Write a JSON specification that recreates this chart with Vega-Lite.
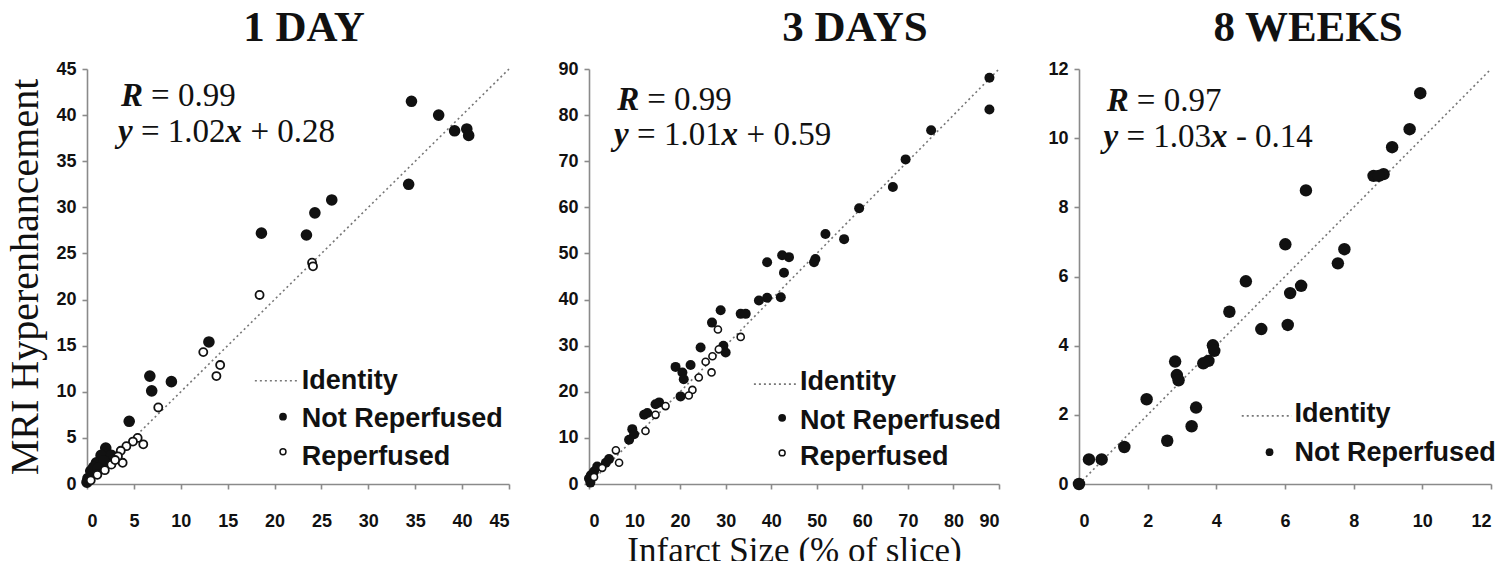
{
  "$schema": "https://vega.github.io/schema/vega-lite/v6.json",
  "background": "white",
  "padding": {"left": 5, "top": 7, "right": 0, "bottom": 0},
  "bounds": "flush",
  "spacing": 80,
  "datasets": {
    "day1": [
      {"x": 34.6, "y": 41.5, "group": "Not Reperfused"},
      {"x": 37.5, "y": 40.0, "group": "Not Reperfused"},
      {"x": 39.2, "y": 38.3, "group": "Not Reperfused"},
      {"x": 40.5, "y": 38.5, "group": "Not Reperfused"},
      {"x": 40.7, "y": 37.8, "group": "Not Reperfused"},
      {"x": 34.3, "y": 32.5, "group": "Not Reperfused"},
      {"x": 26.1, "y": 30.8, "group": "Not Reperfused"},
      {"x": 24.3, "y": 29.4, "group": "Not Reperfused"},
      {"x": 23.4, "y": 27.0, "group": "Not Reperfused"},
      {"x": 18.6, "y": 27.2, "group": "Not Reperfused"},
      {"x": 13.0, "y": 15.4, "group": "Not Reperfused"},
      {"x": 6.7, "y": 11.7, "group": "Not Reperfused"},
      {"x": 6.9, "y": 10.1, "group": "Not Reperfused"},
      {"x": 9.0, "y": 11.1, "group": "Not Reperfused"},
      {"x": 4.5, "y": 6.8, "group": "Not Reperfused"},
      {"x": 2.0, "y": 3.9, "group": "Not Reperfused"},
      {"x": 1.5, "y": 3.1, "group": "Not Reperfused"},
      {"x": 1.0, "y": 2.3, "group": "Not Reperfused"},
      {"x": 0.4, "y": 1.4, "group": "Not Reperfused"},
      {"x": 0.1, "y": 0.6, "group": "Not Reperfused"},
      {"x": 0.0, "y": 0.2, "group": "Not Reperfused"},
      {"x": 2.6, "y": 3.1, "group": "Not Reperfused"},
      {"x": 1.8, "y": 2.5, "group": "Not Reperfused"},
      {"x": 0.7, "y": 1.8, "group": "Not Reperfused"},
      {"x": 1.2, "y": 1.7, "group": "Not Reperfused"},
      {"x": 24.0, "y": 24.0, "group": "Reperfused"},
      {"x": 24.1, "y": 23.6, "group": "Reperfused"},
      {"x": 18.4, "y": 20.5, "group": "Reperfused"},
      {"x": 12.4, "y": 14.3, "group": "Reperfused"},
      {"x": 14.2, "y": 12.9, "group": "Reperfused"},
      {"x": 13.8, "y": 11.7, "group": "Reperfused"},
      {"x": 7.6, "y": 8.3, "group": "Reperfused"},
      {"x": 6.0, "y": 4.3, "group": "Reperfused"},
      {"x": 5.4, "y": 5.0, "group": "Reperfused"},
      {"x": 4.9, "y": 4.6, "group": "Reperfused"},
      {"x": 4.2, "y": 4.1, "group": "Reperfused"},
      {"x": 3.6, "y": 3.6, "group": "Reperfused"},
      {"x": 3.8, "y": 2.3, "group": "Reperfused"},
      {"x": 3.3, "y": 3.0, "group": "Reperfused"},
      {"x": 2.6, "y": 2.1, "group": "Reperfused"},
      {"x": 1.9, "y": 1.5, "group": "Reperfused"},
      {"x": 1.1, "y": 1.0, "group": "Reperfused"},
      {"x": 0.4, "y": 0.4, "group": "Reperfused"},
      {"x": 3.0, "y": 2.6, "group": "Reperfused"}
    ],
    "day3": [
      {"x": 87.9, "y": 88.1, "group": "Not Reperfused"},
      {"x": 87.9, "y": 81.2, "group": "Not Reperfused"},
      {"x": 75.1, "y": 76.7, "group": "Not Reperfused"},
      {"x": 69.5, "y": 70.4, "group": "Not Reperfused"},
      {"x": 66.7, "y": 64.4, "group": "Not Reperfused"},
      {"x": 59.3, "y": 59.8, "group": "Not Reperfused"},
      {"x": 51.9, "y": 54.2, "group": "Not Reperfused"},
      {"x": 56.0, "y": 53.1, "group": "Not Reperfused"},
      {"x": 49.7, "y": 48.8, "group": "Not Reperfused"},
      {"x": 49.4, "y": 48.1, "group": "Not Reperfused"},
      {"x": 43.9, "y": 49.2, "group": "Not Reperfused"},
      {"x": 42.4, "y": 49.6, "group": "Not Reperfused"},
      {"x": 42.8, "y": 45.8, "group": "Not Reperfused"},
      {"x": 39.1, "y": 48.1, "group": "Not Reperfused"},
      {"x": 42.1, "y": 40.5, "group": "Not Reperfused"},
      {"x": 39.1, "y": 40.4, "group": "Not Reperfused"},
      {"x": 37.3, "y": 39.8, "group": "Not Reperfused"},
      {"x": 33.3, "y": 36.9, "group": "Not Reperfused"},
      {"x": 34.4, "y": 36.9, "group": "Not Reperfused"},
      {"x": 28.9, "y": 37.7, "group": "Not Reperfused"},
      {"x": 27.0, "y": 35.0, "group": "Not Reperfused"},
      {"x": 24.5, "y": 29.6, "group": "Not Reperfused"},
      {"x": 30.0, "y": 28.5, "group": "Not Reperfused"},
      {"x": 29.5, "y": 30.0, "group": "Not Reperfused"},
      {"x": 19.0, "y": 25.4, "group": "Not Reperfused"},
      {"x": 20.5, "y": 24.2, "group": "Not Reperfused"},
      {"x": 22.3, "y": 25.8, "group": "Not Reperfused"},
      {"x": 20.8, "y": 22.7, "group": "Not Reperfused"},
      {"x": 20.1, "y": 19.0, "group": "Not Reperfused"},
      {"x": 15.4, "y": 17.7, "group": "Not Reperfused"},
      {"x": 14.6, "y": 17.3, "group": "Not Reperfused"},
      {"x": 12.1, "y": 15.0, "group": "Not Reperfused"},
      {"x": 12.8, "y": 15.4, "group": "Not Reperfused"},
      {"x": 9.5, "y": 11.9, "group": "Not Reperfused"},
      {"x": 8.8, "y": 9.6, "group": "Not Reperfused"},
      {"x": 9.9, "y": 10.8, "group": "Not Reperfused"},
      {"x": 4.4, "y": 5.4, "group": "Not Reperfused"},
      {"x": 3.7, "y": 4.6, "group": "Not Reperfused"},
      {"x": 0.4, "y": 1.9, "group": "Not Reperfused"},
      {"x": 0.0, "y": 1.2, "group": "Not Reperfused"},
      {"x": 1.1, "y": 2.7, "group": "Not Reperfused"},
      {"x": 1.8, "y": 3.8, "group": "Not Reperfused"},
      {"x": 0.3, "y": 0.3, "group": "Not Reperfused"},
      {"x": 28.3, "y": 33.5, "group": "Reperfused"},
      {"x": 33.3, "y": 31.9, "group": "Reperfused"},
      {"x": 26.9, "y": 24.2, "group": "Reperfused"},
      {"x": 25.6, "y": 26.5, "group": "Reperfused"},
      {"x": 27.1, "y": 27.7, "group": "Reperfused"},
      {"x": 28.5, "y": 29.2, "group": "Reperfused"},
      {"x": 24.1, "y": 23.1, "group": "Reperfused"},
      {"x": 22.7, "y": 20.4, "group": "Reperfused"},
      {"x": 21.9, "y": 19.2, "group": "Reperfused"},
      {"x": 16.8, "y": 16.9, "group": "Reperfused"},
      {"x": 14.6, "y": 15.0, "group": "Reperfused"},
      {"x": 12.4, "y": 11.5, "group": "Reperfused"},
      {"x": 5.9, "y": 7.3, "group": "Reperfused"},
      {"x": 6.6, "y": 4.6, "group": "Reperfused"},
      {"x": 2.9, "y": 3.5, "group": "Reperfused"},
      {"x": 1.1, "y": 1.5, "group": "Reperfused"}
    ],
    "week8": [
      {"x": 9.94, "y": 11.3, "group": "Not Reperfused"},
      {"x": 9.63, "y": 10.26, "group": "Not Reperfused"},
      {"x": 9.12, "y": 9.74, "group": "Not Reperfused"},
      {"x": 8.58, "y": 8.91, "group": "Not Reperfused"},
      {"x": 8.87, "y": 8.96, "group": "Not Reperfused"},
      {"x": 8.73, "y": 8.91, "group": "Not Reperfused"},
      {"x": 6.61, "y": 8.49, "group": "Not Reperfused"},
      {"x": 6.01, "y": 6.93, "group": "Not Reperfused"},
      {"x": 7.73, "y": 6.79, "group": "Not Reperfused"},
      {"x": 7.54, "y": 6.38, "group": "Not Reperfused"},
      {"x": 4.86, "y": 5.86, "group": "Not Reperfused"},
      {"x": 6.47, "y": 5.73, "group": "Not Reperfused"},
      {"x": 6.15, "y": 5.52, "group": "Not Reperfused"},
      {"x": 4.38, "y": 4.98, "group": "Not Reperfused"},
      {"x": 5.31, "y": 4.48, "group": "Not Reperfused"},
      {"x": 6.08, "y": 4.6, "group": "Not Reperfused"},
      {"x": 3.9, "y": 4.01, "group": "Not Reperfused"},
      {"x": 3.94, "y": 3.85, "group": "Not Reperfused"},
      {"x": 3.77, "y": 3.56, "group": "Not Reperfused"},
      {"x": 3.62, "y": 3.49, "group": "Not Reperfused"},
      {"x": 2.8, "y": 3.54, "group": "Not Reperfused"},
      {"x": 2.85, "y": 3.15, "group": "Not Reperfused"},
      {"x": 2.9, "y": 3.0, "group": "Not Reperfused"},
      {"x": 1.97, "y": 2.45, "group": "Not Reperfused"},
      {"x": 3.41, "y": 2.21, "group": "Not Reperfused"},
      {"x": 3.28, "y": 1.67, "group": "Not Reperfused"},
      {"x": 2.57, "y": 1.25, "group": "Not Reperfused"},
      {"x": 1.32, "y": 1.07, "group": "Not Reperfused"},
      {"x": 0.29, "y": 0.71, "group": "Not Reperfused"},
      {"x": 0.66, "y": 0.71, "group": "Not Reperfused"},
      {"x": 0.0, "y": 0.0, "group": "Not Reperfused"}
    ]
  },
  "hconcat": [
    {
      "width": 422, "height": 415,
      "title": {"text": "1 DAY", "dx": 6},
      "layer": [
        {
          "data": {"values": [{}]},
          "mark": {"type": "rule", "strokeDash": [2, 3], "color": "#777", "strokeWidth": 1.6},
          "encoding": {
            "x": {"datum": 0, "type": "quantitative", "scale": {"domain": [0, 45], "nice": false}, "axis": {"values": [0, 5, 10, 15, 20, 25, 30, 35, 40, 45], "title": null}},
            "y": {"datum": 0, "type": "quantitative", "scale": {"domain": [0, 45], "nice": false}, "axis": {"values": [0, 5, 10, 15, 20, 25, 30, 35, 40, 45], "title": "MRI Hyperenhancement", "titleFontSize": 40, "titlePadding": 10}},
            "x2": {"datum": 45}, "y2": {"datum": 45}
          }
        },
        {
          "data": {"name": "day1"},
          "transform": [{"filter": "datum.group === 'Not Reperfused'"}],
          "mark": {"type": "circle", "color": "#111", "size": 135, "opacity": 1},
          "encoding": {"x": {"field": "x", "type": "quantitative"}, "y": {"field": "y", "type": "quantitative"}}
        },
        {
          "data": {"name": "day1"},
          "transform": [{"filter": "datum.group === 'Reperfused'"}],
          "mark": {"type": "point", "shape": "circle", "fill": "white", "filled": false, "stroke": "#111", "strokeWidth": 1.8, "size": 65, "opacity": 1},
          "encoding": {"x": {"field": "x", "type": "quantitative"}, "y": {"field": "y", "type": "quantitative"}}
        },
        {"data": {"values": [{}]}, "mark": {"type": "text", "text": "R", "font": "Liberation Serif", "fontSize": 33, "fontWeight": "bold", "fontStyle": "italic", "align": "left", "baseline": "alphabetic", "color": "#111"}, "encoding": {"x": {"datum": 3.63}, "y": {"datum": 41.0}}},
        {"data": {"values": [{}]}, "mark": {"type": "text", "text": "= 0.99", "dx": 30, "font": "Liberation Serif", "fontSize": 33, "align": "left", "baseline": "alphabetic", "color": "#111"}, "encoding": {"x": {"datum": 3.63}, "y": {"datum": 41.0}}},
        {"data": {"values": [{}]}, "mark": {"type": "text", "text": "y", "font": "Liberation Serif", "fontSize": 33, "fontWeight": "bold", "fontStyle": "italic", "align": "left", "baseline": "alphabetic", "color": "#111"}, "encoding": {"x": {"datum": 3.3}, "y": {"datum": 37.1}}},
        {"data": {"values": [{}]}, "mark": {"type": "text", "text": "= 1.02", "dx": 23, "font": "Liberation Serif", "fontSize": 33, "align": "left", "baseline": "alphabetic", "color": "#111"}, "encoding": {"x": {"datum": 3.3}, "y": {"datum": 37.1}}},
        {"data": {"values": [{}]}, "mark": {"type": "text", "text": "x", "dx": 107.5, "font": "Liberation Serif", "fontSize": 33, "fontWeight": "bold", "fontStyle": "italic", "align": "left", "baseline": "alphabetic", "color": "#111"}, "encoding": {"x": {"datum": 3.3}, "y": {"datum": 37.1}}},
        {"data": {"values": [{}]}, "mark": {"type": "text", "text": "+ 0.28", "dx": 132.5, "font": "Liberation Serif", "fontSize": 33, "align": "left", "baseline": "alphabetic", "color": "#111"}, "encoding": {"x": {"datum": 3.3}, "y": {"datum": 37.1}}},
        {"data": {"values": [{}]}, "mark": {"type": "rule", "strokeDash": [2, 3], "color": "#777", "strokeWidth": 1.6}, "encoding": {"x": {"datum": 17.9}, "x2": {"datum": 22.5}, "y": {"datum": 11.2}}},
        {"data": {"values": [{}]}, "mark": {"type": "circle", "color": "#111", "size": 60, "opacity": 1}, "encoding": {"x": {"datum": 20.9}, "y": {"datum": 7.3}}},
        {"data": {"values": [{}]}, "mark": {"type": "point", "shape": "circle", "fill": "white", "stroke": "#111", "strokeWidth": 1.5, "size": 35, "opacity": 1}, "encoding": {"x": {"datum": 20.9}, "y": {"datum": 3.5}}},
        {"data": {"values": [{}]}, "mark": {"type": "text", "text": "Identity", "font": "Liberation Sans", "fontSize": 27, "fontWeight": "bold", "align": "left", "baseline": "middle", "color": "#111"}, "encoding": {"x": {"datum": 22.9}, "y": {"datum": 11.2}}},
        {"data": {"values": [{}]}, "mark": {"type": "text", "text": "Not Reperfused", "font": "Liberation Sans", "fontSize": 27, "fontWeight": "bold", "align": "left", "baseline": "middle", "color": "#111"}, "encoding": {"x": {"datum": 22.9}, "y": {"datum": 7.0}}},
        {"data": {"values": [{}]}, "mark": {"type": "text", "text": "Reperfused", "font": "Liberation Sans", "fontSize": 27, "fontWeight": "bold", "align": "left", "baseline": "middle", "color": "#111"}, "encoding": {"x": {"datum": 22.9}, "y": {"datum": 2.9}}}
      ]
    },
    {
      "width": 410, "height": 415,
      "title": {"text": "3 DAYS", "dx": 61},
      "layer": [
        {
          "data": {"values": [{}]},
          "mark": {"type": "rule", "strokeDash": [2, 3], "color": "#777", "strokeWidth": 1.6},
          "encoding": {
            "x": {"datum": 0, "type": "quantitative", "scale": {"domain": [0, 90], "nice": false}, "axis": {"values": [0, 10, 20, 30, 40, 50, 60, 70, 80, 90], "title": "Infarct Size (% of slice)", "titleFontSize": 35, "titlePadding": 3}},
            "y": {"datum": 0, "type": "quantitative", "scale": {"domain": [0, 90], "nice": false}, "axis": {"values": [0, 10, 20, 30, 40, 50, 60, 70, 80, 90], "title": null}},
            "x2": {"datum": 90}, "y2": {"datum": 90}
          }
        },
        {
          "data": {"name": "day3"},
          "transform": [{"filter": "datum.group === 'Not Reperfused'"}],
          "mark": {"type": "circle", "color": "#111", "size": 100, "opacity": 1},
          "encoding": {"x": {"field": "x", "type": "quantitative"}, "y": {"field": "y", "type": "quantitative"}}
        },
        {
          "data": {"name": "day3"},
          "transform": [{"filter": "datum.group === 'Reperfused'"}],
          "mark": {"type": "point", "shape": "circle", "fill": "white", "filled": false, "stroke": "#111", "strokeWidth": 1.6, "size": 50, "opacity": 1},
          "encoding": {"x": {"field": "x", "type": "quantitative"}, "y": {"field": "y", "type": "quantitative"}}
        },
        {"data": {"values": [{}]}, "mark": {"type": "text", "text": "R", "font": "Liberation Serif", "fontSize": 33, "fontWeight": "bold", "fontStyle": "italic", "align": "left", "baseline": "alphabetic", "color": "#111"}, "encoding": {"x": {"datum": 6.2}, "y": {"datum": 81.2}}},
        {"data": {"values": [{}]}, "mark": {"type": "text", "text": "= 0.99", "dx": 30, "font": "Liberation Serif", "fontSize": 33, "align": "left", "baseline": "alphabetic", "color": "#111"}, "encoding": {"x": {"datum": 6.2}, "y": {"datum": 81.2}}},
        {"data": {"values": [{}]}, "mark": {"type": "text", "text": "y", "font": "Liberation Serif", "fontSize": 33, "fontWeight": "bold", "fontStyle": "italic", "align": "left", "baseline": "alphabetic", "color": "#111"}, "encoding": {"x": {"datum": 5.5}, "y": {"datum": 73.5}}},
        {"data": {"values": [{}]}, "mark": {"type": "text", "text": "= 1.01", "dx": 23, "font": "Liberation Serif", "fontSize": 33, "align": "left", "baseline": "alphabetic", "color": "#111"}, "encoding": {"x": {"datum": 5.5}, "y": {"datum": 73.5}}},
        {"data": {"values": [{}]}, "mark": {"type": "text", "text": "x", "dx": 107.5, "font": "Liberation Serif", "fontSize": 33, "fontWeight": "bold", "fontStyle": "italic", "align": "left", "baseline": "alphabetic", "color": "#111"}, "encoding": {"x": {"datum": 5.5}, "y": {"datum": 73.5}}},
        {"data": {"values": [{}]}, "mark": {"type": "text", "text": "+ 0.59", "dx": 132.5, "font": "Liberation Serif", "fontSize": 33, "align": "left", "baseline": "alphabetic", "color": "#111"}, "encoding": {"x": {"datum": 5.5}, "y": {"datum": 73.5}}},
        {"data": {"values": [{}]}, "mark": {"type": "rule", "strokeDash": [2, 3], "color": "#777", "strokeWidth": 1.6}, "encoding": {"x": {"datum": 36.2}, "x2": {"datum": 45.4}, "y": {"datum": 21.65}}},
        {"data": {"values": [{}]}, "mark": {"type": "circle", "color": "#111", "size": 60, "opacity": 1}, "encoding": {"x": {"datum": 42.4}, "y": {"datum": 14.35}}},
        {"data": {"values": [{}]}, "mark": {"type": "point", "shape": "circle", "fill": "white", "stroke": "#111", "strokeWidth": 1.5, "size": 35, "opacity": 1}, "encoding": {"x": {"datum": 42.4}, "y": {"datum": 6.75}}},
        {"data": {"values": [{}]}, "mark": {"type": "text", "text": "Identity", "font": "Liberation Sans", "fontSize": 27, "fontWeight": "bold", "align": "left", "baseline": "middle", "color": "#111"}, "encoding": {"x": {"datum": 46.3}, "y": {"datum": 22.05}}},
        {"data": {"values": [{}]}, "mark": {"type": "text", "text": "Not Reperfused", "font": "Liberation Sans", "fontSize": 27, "fontWeight": "bold", "align": "left", "baseline": "middle", "color": "#111"}, "encoding": {"x": {"datum": 46.3}, "y": {"datum": 13.75}}},
        {"data": {"values": [{}]}, "mark": {"type": "text", "text": "Reperfused", "font": "Liberation Sans", "fontSize": 27, "fontWeight": "bold", "align": "left", "baseline": "middle", "color": "#111"}, "encoding": {"x": {"datum": 46.3}, "y": {"datum": 5.75}}}
      ]
    },
    {
      "width": 412, "height": 415,
      "title": {"text": "8 WEEKS", "dx": 23},
      "layer": [
        {
          "data": {"values": [{}]},
          "mark": {"type": "rule", "strokeDash": [2, 3], "color": "#777", "strokeWidth": 1.6},
          "encoding": {
            "x": {"datum": 0, "type": "quantitative", "scale": {"domain": [0, 12], "nice": false}, "axis": {"values": [0, 2, 4, 6, 8, 10, 12], "title": null}},
            "y": {"datum": 0, "type": "quantitative", "scale": {"domain": [0, 12], "nice": false}, "axis": {"values": [0, 2, 4, 6, 8, 10, 12], "title": null}},
            "x2": {"datum": 12}, "y2": {"datum": 12}
          }
        },
        {
          "data": {"name": "week8"},
          "mark": {"type": "circle", "color": "#111", "size": 155, "opacity": 1},
          "encoding": {"x": {"field": "x", "type": "quantitative"}, "y": {"field": "y", "type": "quantitative"}}
        },
        {"data": {"values": [{}]}, "mark": {"type": "text", "text": "R", "font": "Liberation Serif", "fontSize": 33, "fontWeight": "bold", "fontStyle": "italic", "align": "left", "baseline": "alphabetic", "color": "#111"}, "encoding": {"x": {"datum": 0.81}, "y": {"datum": 10.78}}},
        {"data": {"values": [{}]}, "mark": {"type": "text", "text": "= 0.97", "dx": 30, "font": "Liberation Serif", "fontSize": 33, "align": "left", "baseline": "alphabetic", "color": "#111"}, "encoding": {"x": {"datum": 0.81}, "y": {"datum": 10.78}}},
        {"data": {"values": [{}]}, "mark": {"type": "text", "text": "y", "font": "Liberation Serif", "fontSize": 33, "fontWeight": "bold", "fontStyle": "italic", "align": "left", "baseline": "alphabetic", "color": "#111"}, "encoding": {"x": {"datum": 0.71}, "y": {"datum": 9.74}}},
        {"data": {"values": [{}]}, "mark": {"type": "text", "text": "= 1.03", "dx": 23, "font": "Liberation Serif", "fontSize": 33, "align": "left", "baseline": "alphabetic", "color": "#111"}, "encoding": {"x": {"datum": 0.71}, "y": {"datum": 9.74}}},
        {"data": {"values": [{}]}, "mark": {"type": "text", "text": "x", "dx": 107.5, "font": "Liberation Serif", "fontSize": 33, "fontWeight": "bold", "fontStyle": "italic", "align": "left", "baseline": "alphabetic", "color": "#111"}, "encoding": {"x": {"datum": 0.71}, "y": {"datum": 9.74}}},
        {"data": {"values": [{}]}, "mark": {"type": "text", "text": "- 0.14", "dx": 132.5, "font": "Liberation Serif", "fontSize": 33, "align": "left", "baseline": "alphabetic", "color": "#111"}, "encoding": {"x": {"datum": 0.71}, "y": {"datum": 9.74}}},
        {"data": {"values": [{}]}, "mark": {"type": "rule", "strokeDash": [2, 3], "color": "#777", "strokeWidth": 1.6}, "encoding": {"x": {"datum": 4.74}, "x2": {"datum": 6.2}, "y": {"datum": 1.97}}},
        {"data": {"values": [{}]}, "mark": {"type": "circle", "color": "#111", "size": 60, "opacity": 1}, "encoding": {"x": {"datum": 5.55}, "y": {"datum": 0.92}}},
        {"data": {"values": [{}]}, "mark": {"type": "text", "text": "Identity", "font": "Liberation Sans", "fontSize": 27, "fontWeight": "bold", "align": "left", "baseline": "middle", "color": "#111"}, "encoding": {"x": {"datum": 6.28}, "y": {"datum": 2.02}}},
        {"data": {"values": [{}]}, "mark": {"type": "text", "text": "Not Reperfused", "font": "Liberation Sans", "fontSize": 27, "fontWeight": "bold", "align": "left", "baseline": "middle", "color": "#111"}, "encoding": {"x": {"datum": 6.28}, "y": {"datum": 0.9}}}
      ]
    }
  ],
  "config": {
    "view": {"stroke": null},
    "title": {"font": "Liberation Serif", "fontSize": 43, "fontWeight": "bold", "color": "#111", "anchor": "middle", "baseline": "top", "offset": 10},
    "axis": {
      "grid": false,
      "domainColor": "#8a8a8a", "domainWidth": 1.6,
      "tickColor": "#8a8a8a", "tickWidth": 1.6, "tickSize": 5,
      "labelFont": "Liberation Sans", "labelFontWeight": "bold", "labelFontSize": 18, "labelColor": "#111",
      "titleFont": "Liberation Serif", "titleFontWeight": "normal", "titleColor": "#111"
    },
    "axisX": {"labelPadding": 23},
    "axisY": {"labelPadding": 6}
  }
}
